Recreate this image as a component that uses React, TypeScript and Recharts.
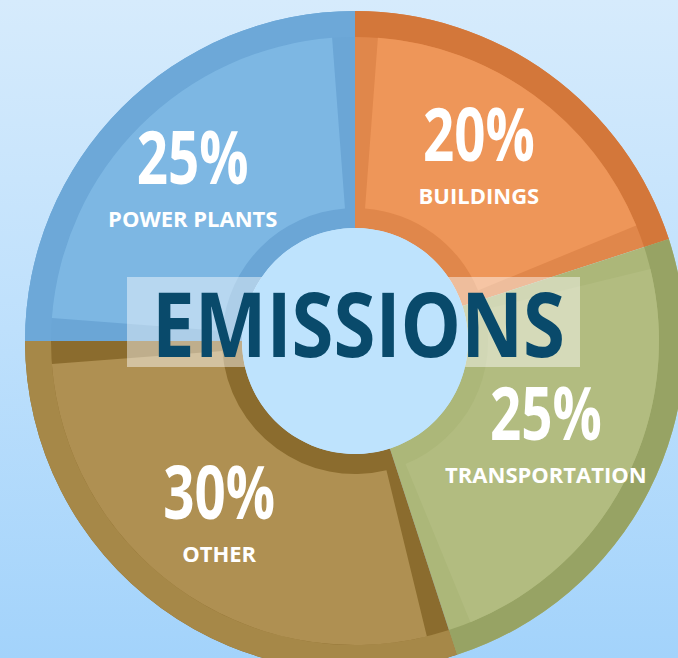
import React from 'react';
import { PieChart, Pie, Cell } from 'recharts';

// ---- data ----
const categories = ['BUILDINGS', 'TRANSPORTATION', 'OTHER', 'POWER PLANTS'];
const shares = [20, 25, 30, 25];
const percentLabels = ['20%', '25%', '30%', '25%'];
const title = 'EMISSIONS';

// ---- styles ----
const faceColors = ['#EE9659', '#B2BC80', '#AF9052', '#7DB7E3'];
const sideColors = ['#E0874B', '#ACB779', '#8B6C2E', '#6BA6D6'];
const rimColors = ['#D3773A', '#97A364', '#A68848', '#6DA8D8'];

const data = categories.map((name, i) => ({ name, value: shares[i], pct: percentLabels[i], idx: i }));
const hub = [{ name: 'hub', value: 1 }];

// bevel gap between slice faces, in share units (same units as `shares`)
const GAP = 2.4;
const faceData: any[] = [];
data.forEach((d, i) => {
  faceData.push({ name: `gap-${i}`, value: GAP / 2, gap: true });
  faceData.push({ ...d, value: d.value - GAP });
  faceData.push({ name: `gap-${i}b`, value: GAP / 2, gap: true });
});

const W = 678;
const H = 658;
const CX = 355;
const CY = 341;
const R_OUT = 330;
const R_IN = 113;
const RIM = 26;
const INNER_BAND = 20;
const LABEL_R = 221;
const LABEL_DX = -6;
const LABEL_DY = -6;
const FONT = "'Open Sans', 'DejaVu Sans', sans-serif";
const noMargin = { top: 0, right: 0, bottom: 0, left: 0 };

const renderLabel = (props: any) => {
  const { cx, cy, midAngle, index } = props;
  const entry = faceData[index];
  if (!entry || entry.gap) return null;
  const RAD = Math.PI / 180;
  const x = cx + LABEL_DX + LABEL_R * Math.cos(-midAngle * RAD);
  const y = cy + LABEL_DY + LABEL_R * Math.sin(-midAngle * RAD);
  return (
    <g key={`lbl-${index}`}>
      <text
        x={0}
        y={0}
        transform={`translate(${x},${y + 5}) scale(0.74,1)`}
        textAnchor="middle"
        fill="#FFFFFF"
        fontFamily={FONT}
        fontWeight={700}
        fontSize={74}
      >
        {entry.pct}
      </text>
      <text
        x={x}
        y={y + 48}
        textAnchor="middle"
        fill="#FFFFFF"
        fontFamily={FONT}
        fontWeight={700}
        fontSize={22}
      >
        {entry.name}
      </text>
    </g>
  );
};

export default function App() {
  return (
    <div
      style={{
        position: 'fixed',
        left: 0,
        top: 0,
        width: W,
        height: H,
        overflow: 'hidden',
        background: 'linear-gradient(to bottom, #D6EBFC 0%, #BEE0FC 50%, #A3D3FB 100%)',
      }}
    >
      <div style={{ position: 'absolute', left: 0, top: 0 }}>
        <PieChart width={W} height={H} margin={noMargin}>
          <Pie
            data={data}
            dataKey="value"
            nameKey="name"
            cx={CX}
            cy={CY}
            innerRadius={R_IN}
            outerRadius={R_OUT}
            startAngle={90}
            endAngle={-270}
            stroke="none"
            isAnimationActive={false}
          >
            {data.map((_, i) => (
              <Cell key={`s-${i}`} fill={sideColors[i]} stroke="none" />
            ))}
          </Pie>
          <Pie
            data={data}
            dataKey="value"
            nameKey="name"
            cx={CX}
            cy={CY}
            innerRadius={R_OUT - RIM}
            outerRadius={R_OUT}
            startAngle={90}
            endAngle={-270}
            stroke="none"
            isAnimationActive={false}
          >
            {data.map((_, i) => (
              <Cell key={`r-${i}`} fill={rimColors[i]} stroke="none" />
            ))}
          </Pie>
          <Pie
            data={faceData}
            dataKey="value"
            nameKey="name"
            cx={CX}
            cy={CY}
            innerRadius={R_IN + INNER_BAND}
            outerRadius={R_OUT - RIM}
            startAngle={90}
            endAngle={-270}
            stroke="none"
            label={renderLabel}
            labelLine={false}
            isAnimationActive={false}
          >
            {faceData.map((d, i) => (
              <Cell
                key={`f-${i}`}
                fill={d.gap ? 'transparent' : faceColors[d.idx]}
                fillOpacity={d.gap ? 0 : 1}
                stroke="none"
              />
            ))}
          </Pie>
        </PieChart>
      </div>
      <div
        style={{
          position: 'absolute',
          left: 127,
          top: 277,
          width: 453,
          height: 90,
          background: 'rgba(255,255,255,0.45)',
        }}
      />
      <div style={{ position: 'absolute', left: 0, top: 0 }}>
        <PieChart width={W} height={H} margin={noMargin}>
          <Pie
            data={hub}
            dataKey="value"
            cx={CX}
            cy={CY}
            innerRadius={0}
            outerRadius={R_IN}
            stroke="none"
            fill="#BEE3FD"
            isAnimationActive={false}
          />
        </PieChart>
      </div>
      <svg
        width={W}
        height={H}
        style={{ position: 'absolute', left: 0, top: 0, pointerEvents: 'none' }}
      >
        <text
          x={152}
          y={357}
          textLength={413}
          lengthAdjust="spacingAndGlyphs"
          fill="#094A6B"
          fontFamily={FONT}
          fontWeight={700}
          fontSize={90}
        >
          {title}
        </text>
      </svg>
    </div>
  );
}
